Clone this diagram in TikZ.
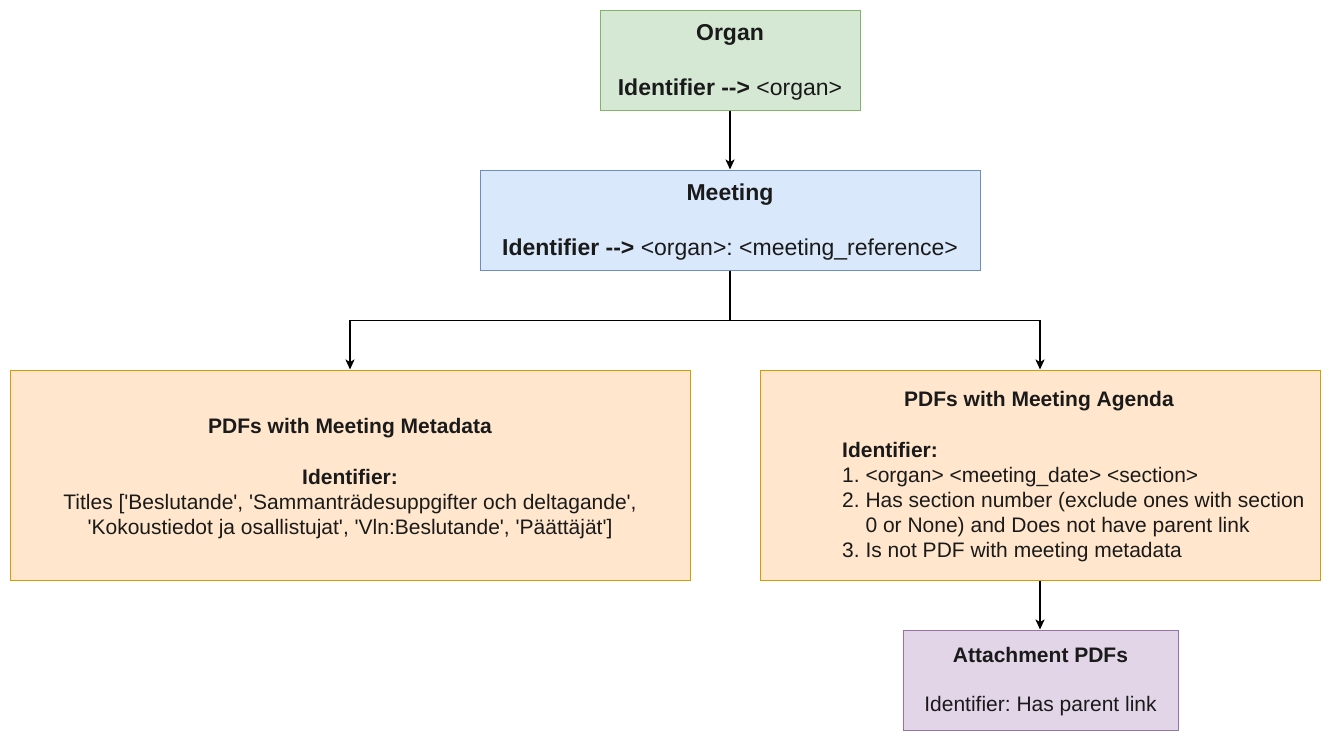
\documentclass[tikz,border=0pt]{standalone}
\usepackage{fontspec}
\newfontfamily\lsans{Liberation Sans}
\usetikzlibrary{arrows.meta}
\definecolor{gfill}{HTML}{D5E8D4}
\definecolor{gline}{HTML}{82B366}
\definecolor{bfill}{HTML}{DAE8FC}
\definecolor{bline}{HTML}{6C8EBF}
\definecolor{ofill}{HTML}{FFE6CC}
\definecolor{oline}{HTML}{D79B00}
\definecolor{pfill}{HTML}{E1D5E7}
\definecolor{pline}{HTML}{9673A6}
\definecolor{ink}{HTML}{1A1A1A}
\frenchspacing
\begin{document}
\begin{tikzpicture}[x=1pt,y=-1pt,
  box/.style={draw, line width=1pt, inner sep=0pt},
  bigtxt/.style={anchor=base, inner sep=0pt, text=ink, font=\lsans\fontsize{23}{27.6}\selectfont},
  txt/.style={anchor=base, inner sep=0pt, text=ink, font=\lsans\fontsize{21}{25.2}\selectfont},
  ltxt/.style={anchor=base west, inner sep=0pt, text=ink, font=\lsans\fontsize{21}{25.2}\selectfont},
  conn/.style={line width=1.7pt, draw=black, -{Stealth[length=10pt,width=9pt,inset=2.5pt]}}]
\useasboundingbox[fill=white] (0,0) rectangle (1331,750);

% boxes
\node[box, fill=gfill, draw=gline, minimum width=260pt, minimum height=100pt] (organ) at (730,60) {};
\node[box, fill=bfill, draw=bline, minimum width=500pt, minimum height=100pt] (meeting) at (730,220) {};
\node[box, fill=ofill, draw=oline, minimum width=680pt, minimum height=210pt] (meta) at (350,475) {};
\node[box, fill=ofill, draw=oline, minimum width=560pt, minimum height=210pt] (agenda) at (1040,475) {};
\node[box, fill=pfill, draw=pline, minimum width=275pt, minimum height=100pt] (attach) at (1040.5,680) {};

% texts
\node[bigtxt] (organT) at (730,40.5) {\textbf{Organ}};
\node[bigtxt] (organI) at (730,95) {\textbf{Identifier -\kern0pt-\kern0pt>} <organ>};

\node[bigtxt] (meetT) at (730,200) {\textbf{Meeting}};
\node[bigtxt] (meetI) at (730,255) {\textbf{Identifier -\kern0pt-\kern0pt>} <organ>: <meeting\_reference>};

\node[txt] (metaT) at (350,433) {\textbf{PDFs with Meeting Metadata}};
\node[txt] (metaI) at (350,484) {\textbf{Identifier:}};
\node[txt] (metaL1) at (350,509) {Titles ['Beslutande', 'Sammanträdesuppgifter och deltagande',};
\node[txt] (metaL2) at (350,534) {'Kokoustiedot ja osallistujat', 'Vln:Beslutande', 'Päättäjät']};

\node[txt] (agT) at (1039,406) {\textbf{PDFs with Meeting Agenda}};
\node[ltxt] (agI) at (842,457) {\textbf{Identifier:}};
\node[ltxt] (ag1) at (842,482) {1. <organ> <meeting\_date> <section>};
\node[ltxt] (ag2) at (842,507) {2. Has section number (exclude ones with section};
\node[ltxt] (ag2b) at (842,532) {\phantom{2. }0 or None) and Does not have parent link};
\node[ltxt] (ag3) at (842,557) {3. Is not PDF with meeting metadata};

\node[txt] (atT) at (1040.5,662) {\textbf{Attachment PDFs}};
\node[txt] (atI) at (1040.5,711.5) {Identifier: Has parent link};

% connectors
\draw[conn] (organ.south) -- (meeting.north);
\draw[conn] (meeting.south) -- ++(0,50) -| (meta.north);
\draw[conn] (meeting.south) -- ++(0,50) -| (agenda.north);
\draw[conn] (agenda.south) -- (attach.north -| agenda.south);
\end{tikzpicture}
\end{document}
